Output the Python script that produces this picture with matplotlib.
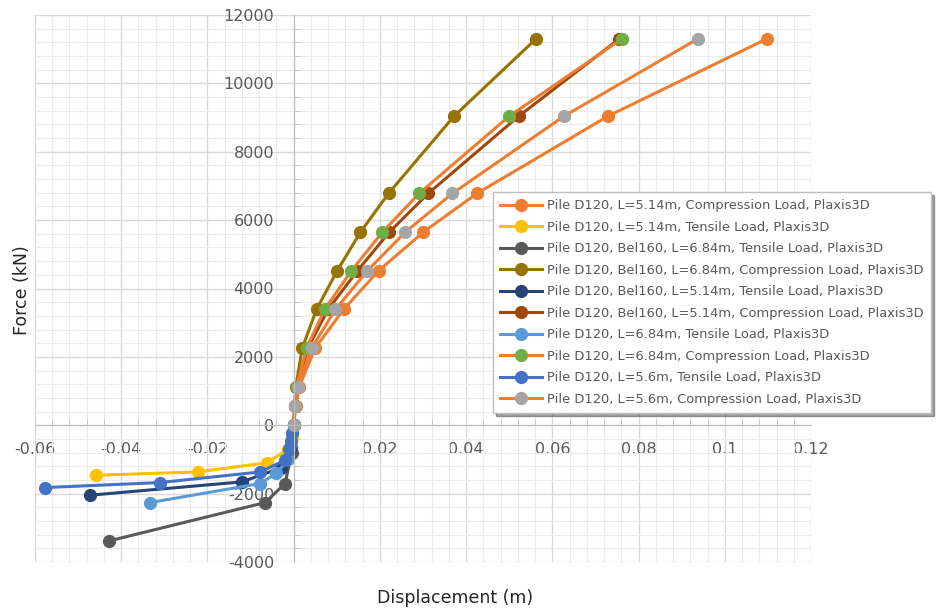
import matplotlib.pyplot as plt
from matplotlib.ticker import MultipleLocator

plt.rcParams['font.family'] = ['DejaVu Sans']
plt.rcParams['axes.unicode_minus'] = False

# compression load steps (kN)
comp_force = [0, 565, 1130, 2260, 3390, 4520, 5650, 6780, 9040, 11300]

# displacements (m)
d120_l514_comp = [0, 0.0005, 0.0013, 0.0050, 0.0116, 0.0197, 0.0301, 0.0425, 0.0729, 0.1097]
bel_l684_comp = [0, 0.0002, 0.0005, 0.0020, 0.0053, 0.0101, 0.0155, 0.0220, 0.0372, 0.0562]
bel_l514_comp = [0, 0.0003, 0.0008, 0.0033, 0.0080, 0.0148, 0.0222, 0.0312, 0.0522, 0.0755]
d120_l684_comp = [0, 0.0003, 0.0007, 0.0030, 0.0072, 0.0134, 0.0206, 0.0291, 0.0500, 0.0761]
d120_l56_comp = [0, 0.0004, 0.0010, 0.0042, 0.0097, 0.0171, 0.0259, 0.0368, 0.0627, 0.0937]

# tensile series
d120_l514_tens_x = [0, -0.0004, -0.0012, -0.0063, -0.0223, -0.0458]
d120_l514_tens_f = [0, -340, -700, -1100, -1365, -1462]
bel_l684_tens_x = [0, -0.0004, -0.0020, -0.0066, -0.0428]
bel_l684_tens_f = [0, -800, -1706, -2261, -3383]
bel_l514_tens_x = [0, -0.0008, -0.0030, -0.0120, -0.0473]
bel_l514_tens_f = [0, -700, -1250, -1657, -2047]
d120_l684_tens_x = [0, -0.0012, -0.0040, -0.0078, -0.0333]
d120_l684_tens_f = [0, -1000, -1400, -1706, -2261]
d120_l56_tens_x = [0, -0.0003, -0.0006, -0.0010, -0.0020, -0.0077, -0.0310, -0.0577]
d120_l56_tens_f = [0, -230, -460, -690, -1020, -1365, -1676, -1823]

labels = [
    'Pile D120, L=5.14m, Compression Load, Plaxis3D',
    'Pile D120, L=5.14m, Tensile Load, Plaxis3D',
    'Pile D120, Bel160, L=6.84m, Tensile Load, Plaxis3D',
    'Pile D120, Bel160, L=6.84m, Compression Load, Plaxis3D',
    'Pile D120, Bel160, L=5.14m, Tensile Load, Plaxis3D',
    'Pile D120, Bel160, L=5.14m, Compression Load, Plaxis3D',
    'Pile D120, L=6.84m, Tensile Load, Plaxis3D',
    'Pile D120, L=6.84m, Compression Load, Plaxis3D',
    'Pile D120, L=5.6m, Tensile Load, Plaxis3D',
    'Pile D120, L=5.6m, Compression Load, Plaxis3D',
]

series = [
    (d120_l514_comp, comp_force, '#ED7D31', '#ED7D31'),
    (d120_l514_tens_x, d120_l514_tens_f, '#FFC000', '#FFC000'),
    (bel_l684_tens_x, bel_l684_tens_f, '#595959', '#595959'),
    (bel_l684_comp, comp_force, '#977300', '#977300'),
    (bel_l514_tens_x, bel_l514_tens_f, '#264478', '#264478'),
    (bel_l514_comp, comp_force, '#9E480E', '#9E480E'),
    (d120_l684_tens_x, d120_l684_tens_f, '#5B9BD5', '#5B9BD5'),
    (d120_l684_comp, comp_force, '#ED7D31', '#70AD47'),
    (d120_l56_tens_x, d120_l56_tens_f, '#4472C4', '#4472C4'),
    (d120_l56_comp, comp_force, '#ED7D31', '#A5A5A5'),
]

fig = plt.figure(figsize=(9.42, 6.12), dpi=100)
ax = fig.add_axes([35 / 942, 1 - 562 / 612, (811 - 35) / 942, (562 - 15) / 612])

for (x, y, lc, mc), lab in zip(series, labels):
    ax.plot(x, y, color=lc, lw=2.2, marker='o', markersize=8.5,
            markerfacecolor=mc, markeredgecolor=mc, label=lab)

ax.set_xlim(-0.06, 0.12)
ax.set_ylim(-4000, 12000)
ax.xaxis.set_major_locator(MultipleLocator(0.02))
ax.xaxis.set_minor_locator(MultipleLocator(0.004))
ax.yaxis.set_major_locator(MultipleLocator(2000))
ax.yaxis.set_minor_locator(MultipleLocator(400))
ax.xaxis.set_major_formatter(plt.FuncFormatter(lambda v, p: '0' if abs(v) < 1e-9 else f'{v:g}'))

ax.set_axisbelow(True)
ax.grid(which='major', color='#D9D9D9', lw=1)
ax.grid(which='minor', color='#EBEBEB', lw=0.8)

for s in ['top', 'right']:
    ax.spines[s].set_visible(False)
ax.spines['left'].set_position(('data', 0))
ax.spines['bottom'].set_position(('data', 0))
ax.spines['left'].set_color('#BFBFBF')
ax.spines['bottom'].set_color('#BFBFBF')

ax.tick_params(which='major', length=0, labelsize=11.5, labelcolor='#595959')
ax.tick_params(axis='y', which='major', pad=14)
ax.tick_params(axis='x', which='major', pad=12)
ax.tick_params(which='minor', length=4, color='#BFBFBF', direction='in')

fig.text(455 / 942, 1 - 598 / 612, 'Displacement (m)', ha='center', va='center',
         fontsize=12.5, color='#262626')
fig.text(22 / 942, 1 - 290 / 612, 'Force (kN)', ha='center', va='center',
         rotation=90, fontsize=12.5, color='#262626')

leg = ax.legend(loc='upper left', bbox_to_anchor=(493 / 942, 1 - 192 / 612),
                bbox_transform=fig.transFigure, borderaxespad=0, fontsize=9.4,
                frameon=True, fancybox=False, shadow=True, edgecolor='#BFBFBF',
                framealpha=1, labelspacing=0.65, handlelength=3.2,
                handletextpad=0.4, borderpad=0.55, labelcolor='#595959')

fig.savefig('out.png', dpi=100)
